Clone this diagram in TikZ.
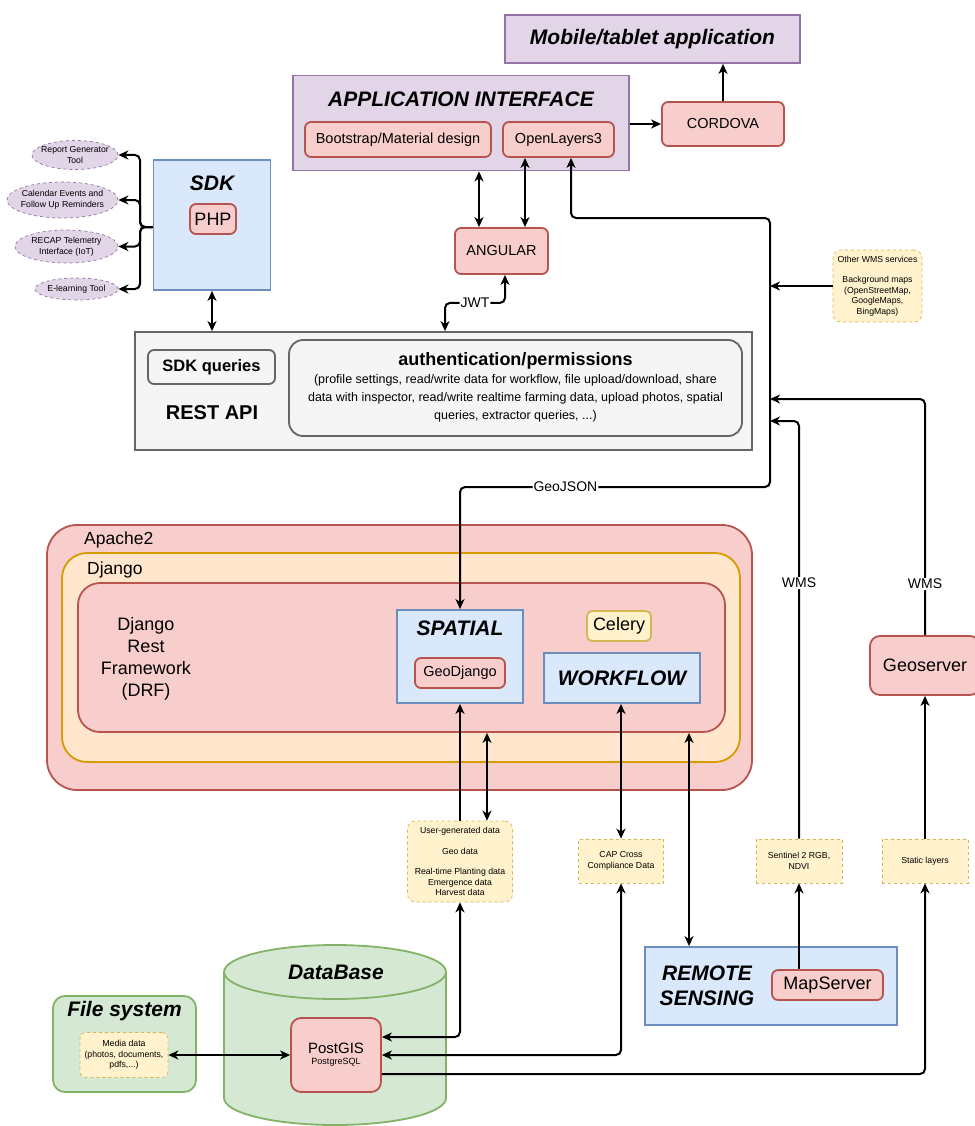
\documentclass[tikz,border=0pt]{standalone}
\usepackage{fontspec}
\setmainfont{Liberation Sans}
\usepackage{xcolor}
\usetikzlibrary{arrows.meta,shapes.geometric}
\definecolor{purplefill}{HTML}{E1D5E7}
\definecolor{purpleline}{HTML}{9673A6}
\definecolor{redfill}{HTML}{F8CECC}
\definecolor{redline}{HTML}{B85450}
\definecolor{bluefill}{HTML}{DAE8FC}
\definecolor{blueline}{HTML}{6C8EBF}
\definecolor{yellowfill}{HTML}{FFF2CC}
\definecolor{yellowline}{HTML}{D6B656}
\definecolor{greenfill}{HTML}{D5E8D4}
\definecolor{greenline}{HTML}{82B366}
\definecolor{grayfill}{HTML}{F5F5F5}
\definecolor{grayline}{HTML}{666666}
\definecolor{orangefill}{HTML}{FFE6CC}
\definecolor{orangeline}{HTML}{D79B00}

\begin{document}
\begin{tikzpicture}[x=1pt,y=-1pt,
   every node/.style={inner sep=0pt},
   purplebox/.style={draw=purpleline,fill=purplefill,line width=1.8pt},
   redbox/.style={draw=redline,fill=redfill,line width=1.8pt,rounded corners=6pt},
   bluebox/.style={draw=blueline,fill=bluefill,line width=1.8pt},
   greenbox/.style={draw=greenline,fill=greenfill,line width=1.8pt},
   graybox/.style={draw=grayline,fill=grayfill,line width=1.8pt},
   notebox/.style={draw=yellowline,fill=yellowfill,dashed,line width=0.7pt,align=center,
      font=\fontsize{8.7}{10.5}\selectfont},
   tool/.style={ellipse,draw=purpleline,fill=purplefill,dashed,line width=0.7pt,align=center,
      font=\fontsize{8.7}{10.7}\selectfont,inner xsep=-4pt,inner ysep=1pt},
   title/.style={font=\fontsize{21}{25}\selectfont\bfseries\itshape},
   txt/.style={font=\fontsize{14.5}{17}\selectfont},
   bigtxt/.style={font=\fontsize{18}{22}\selectfont},
   tag/.style={fill=white,font=\fontsize{14}{16}\selectfont,inner sep=1pt},
   arr/.style={line width=2pt,rounded corners=5pt,-{Stealth[length=10pt,width=9pt,inset=3pt]}},
   dbl/.style={arr,{Stealth[length=10pt,width=9pt,inset=3pt]}-{Stealth[length=10pt,width=9pt,inset=3pt]}}
]
   \useasboundingbox[fill=white] (0,0) rectangle (974,1126);
   %app
   \node[purplebox,title,minimum width=295pt,minimum height=48pt] (mobile) at (652.5,39) {Mobile/tablet application};
   \node[purplebox,minimum width=336pt,minimum height=95pt] (appif) at (461,123) {};
   \node[title] (appiftitle) at (461,99) {APPLICATION INTERFACE};
   \node[redbox,txt,minimum width=186pt,minimum height=35pt] (bootstrap) at (398,139.5) {Bootstrap/Material design};
   \node[redbox,txt,minimum width=111pt,minimum height=35pt] (ol) at (558.5,139.5) {OpenLayers3};
   \node[redbox,txt,minimum width=122pt,minimum height=44pt] (cordova) at (723,124) {CORDOVA};
   \node[redbox,txt,minimum width=93pt,minimum height=46pt] (angular) at (501.5,251) {ANGULAR};
   %sdk
   \node[bluebox,minimum width=117pt,minimum height=130pt] (sdk) at (212,225) {};
   \node[title] (sdktitle) at (212,183) {SDK};
   \node[redbox,bigtxt,minimum width=46pt,minimum height=30pt] (php) at (213,219) {PHP};
   \node[tool,minimum width=86pt,minimum height=29pt] (report) at (75,155) {Report Generator\\Tool};
   \node[tool,minimum width=111pt,minimum height=36pt] (calendar) at (62.5,200) {Calendar Events and\\Follow Up Reminders};
   \node[tool,minimum width=103pt,minimum height=33pt] (recap) at (66.5,246.5) {RECAP Telemetry\\Interface (IoT)};
   \node[tool,minimum width=83pt,minimum height=22pt] (elearning) at (76.5,289) {E-learning Tool};
   %rest api
   \node[graybox,minimum width=617pt,minimum height=118pt] (rest) at (443.5,391) {};
   \node[graybox,rounded corners=6pt,minimum width=127pt,minimum height=34pt,
      font=\fontsize{16.5}{20}\selectfont\bfseries] (sdkq) at (211.5,367) {SDK queries};
   \node[font=\fontsize{20}{24}\selectfont\bfseries] (restlabel) at (212,413) {REST API};
   \node[graybox,rounded corners=14pt,minimum width=453pt,minimum height=96pt] (auth) at (515.5,388) {};
   \node[font=\fontsize{18}{22}\selectfont\bfseries] (authtitle) at (515.5,361) {authentication/permissions};
   \node[font=\fontsize{12.5}{18}\selectfont,align=center] (authtext) at (515.5,398)
      {(profile settings, read/write data for workflow, file upload/download, share\\
       data with inspector, read/write realtime farming data, upload photos, spatial\\
       queries, extractor queries, ...)};
   \node[notebox,rounded corners=8pt,minimum width=89pt,minimum height=72pt] (otherwms) at (877.5,286)
      {Other WMS services\\[10pt]Background maps\\(OpenStreetMap,\\GoogleMaps,\\BingMaps)};
   %server
   \node[draw=redline,fill=redfill,line width=1.8pt,rounded corners=30pt,minimum width=705pt,minimum height=265pt] (apache) at (399.5,657.5) {};
   \node[anchor=west,font=\fontsize{17.5}{20}\selectfont] (apachelabel) at (84,540) {Apache2};
   \node[draw=orangeline,fill=orangefill,line width=1.8pt,rounded corners=25pt,minimum width=678pt,minimum height=209pt] (django) at (401,657.5) {};
   \node[anchor=west,font=\fontsize{17.5}{20}\selectfont] (djangolabel) at (87,570) {Django};
   \node[draw=redline,fill=redfill,line width=1.8pt,rounded corners=22pt,minimum width=647pt,minimum height=149pt] (drf) at (401.5,657.5) {};
   \node[align=center,font=\fontsize{18}{22}\selectfont] (drflabel) at (146,659) {Django\\Rest\\Framework\\(DRF)};
   \node[bluebox,minimum width=126pt,minimum height=93pt] (spatial) at (460,656.5) {};
   \node[title] (spatialtitle) at (460,628) {SPATIAL};
   \node[redbox,txt,minimum width=90pt,minimum height=30pt] (geodjango) at (460,673) {GeoDjango};
   \node[draw=yellowline,fill=yellowfill,line width=1.8pt,rounded corners=5pt,bigtxt,minimum width=64pt,minimum height=30pt] (celery) at (619,626) {Celery};
   \node[bluebox,title,minimum width=156pt,minimum height=50pt] (workflow) at (622,678) {WORKFLOW};
   %data
   \node[notebox,rounded corners=8pt,minimum width=105pt,minimum height=81pt] (usergen) at (460,861.5)
      {User-generated data\\[10pt]Geo data\\[10pt]Real-time Planting data\\Emergence data\\Harvest data};
   \node[notebox,minimum width=85pt,minimum height=44pt] (cap) at (621,861) {CAP Cross\\Compliance Data};
   \node[notebox,minimum width=86pt,minimum height=44pt] (sentinel) at (799,861) {Sentinel 2 RGB,\\NDVI};
   \node[notebox,minimum width=86pt,minimum height=44pt] (static) at (925,861) {Static layers};
   \node[redbox,bigtxt,rounded corners=10pt,minimum width=110pt,minimum height=59pt] (geoserver) at (925,665.5) {Geoserver};
   \node[bluebox,minimum width=252pt,minimum height=78pt] (remote) at (771,986) {};
   \node[title,align=center] (remotetitle) at (707,986) {REMOTE\\SENSING};
   \node[redbox,bigtxt,minimum width=111pt,minimum height=30pt] (mapserver) at (827.5,985) {MapServer};
   %database
   \draw[greenbox] (224,972) -- (224,1098) arc[start angle=180,end angle=0,x radius=111,y radius=27]
      -- (446,972) arc[start angle=0,end angle=-180,x radius=111,y radius=27] -- cycle;
   \draw[draw=greenline,line width=1.8pt] (224,972) arc[start angle=180,end angle=0,x radius=111,y radius=27];
   \node[title] (dbtitle) at (336,972) {DataBase};
   \node[redbox,rounded corners=10pt,minimum width=90pt,minimum height=74pt,align=center,
      font=\fontsize{9}{11}\selectfont] (postgis) at (336,1055) {{\fontsize{15}{11}\selectfont PostGIS}\\PostgreSQL};
   \node[greenbox,rounded corners=12pt,minimum width=143pt,minimum height=96pt] (filesys) at (124.5,1044) {};
   \node[title] (filesystitle) at (124.5,1011) {File system};
   \node[notebox,rounded corners=6pt,minimum width=88pt,minimum height=45pt] (media) at (124,1055)
      {Media data\\(photos, documents,\\pdfs,...)};
   %arrows top
   \draw[arr] (appif.east |- cordova.west) -- (cordova.west);
   \draw[arr] (cordova.north) -- (cordova.north |- mobile.south);
   \draw[dbl] ([xshift=-22.5pt]angular.north) -- ([xshift=-22.5pt]angular.north |- appif.south);
   \draw[dbl] ([xshift=23.5pt]angular.north) -- ([xshift=23.5pt]angular.north |- ol.south);
   \draw[dbl] ([xshift=3.5pt]angular.south) -- ++(0,28) -| node[tag,pos=0.25] {JWT} ([xshift=1.5pt]rest.north);
   %bus
   \coordinate (bustop) at (770,218);
   \coordinate (busbot) at (770,487);
   \coordinate (wmsa) at (770,399);
   \coordinate (wmsb) at (770,421);
   \draw[dbl] ([xshift=12.5pt]ol.south) |- (bustop) -- (busbot) -| node[tag,pos=0.33] {GeoJSON} (spatial.north);
   \draw[arr] (otherwms.west) -- (otherwms.west -| bustop);
   \draw[arr] (geoserver.north) |- node[tag,pos=0.108] {WMS} (wmsa);
   \draw[arr] (sentinel.north) |- node[tag,pos=0.306] {WMS} (wmsb);
   %sdk
   \draw[dbl] (sdk.south) -- (sdk.south |- rest.north);
   \coordinate (bus) at (140,227);
   \foreach \t in {report,calendar,recap,elearning}
      \draw[arr] (sdk.west |- bus) -- (bus) |- (\t.east);
   %arrows bottom
   \draw[arr] (sentinel.south |- mapserver.north) -- (sentinel.south);
   \draw[arr] (static.north) -- (static.north |- geoserver.south);
   \draw[arr] ([yshift=-19pt]postgis.east) -| (static.south);
   \draw[dbl] (postgis.east) -| (cap.south);
   \draw[dbl] ([yshift=18pt]postgis.east) -| (usergen.south);
   \draw[arr] (usergen.north) -- (usergen.north |- spatial.south);
   \draw[dbl] ([xshift=27pt]usergen.north) -- ([xshift=27pt]usergen.north |- drf.south);
   \draw[dbl] (cap.north) -- (cap.north |- workflow.south);
   \draw[dbl] ([xshift=-82pt]remote.north) -- ([xshift=-82pt]remote.north |- drf.south);
   \draw[dbl] (media.east) -- (media.east -| postgis.west);
\end{tikzpicture}
\end{document}
